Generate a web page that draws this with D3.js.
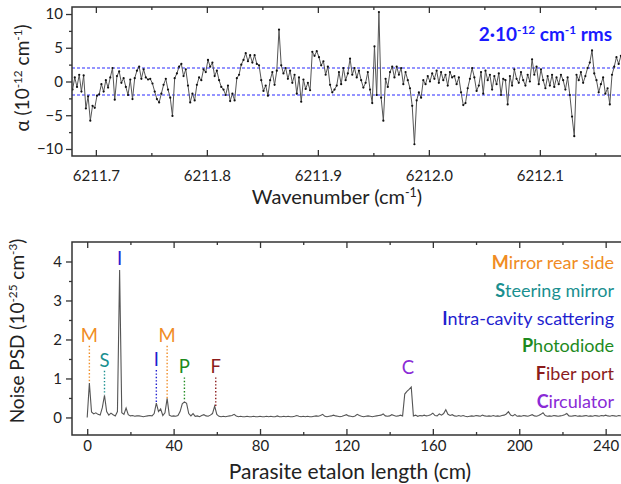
<!DOCTYPE html>
<html>
<head>
<meta charset="utf-8">
<script src="https://cdn.jsdelivr.net/npm/d3@7"></script>
<style>
  body { margin: 0; background: #fff; }
  svg { display: block; }
  text { font-family: Lato, "Open Sans", sans-serif; fill: #222; }
</style>
</head>
<body>
<svg id="chart" width="621" height="484"></svg>
<script>
// ---- top panel : absorption noise ----
const wnStart = 6211.679, wnStep = 0.002;
const alphaVals = [
  -1.2, 0.6, -0.8, 1.0, -1.5, 0.9, -4.0, -2.2, -5.8, -3.6,
  -3.9, -2.1, -1.9, -0.4, -1.5, 0.2, -0.9, 0.6, 2.0, -2.7,
  0.8, 1.5, -0.2, 0.5, -0.8, -2.0, 0.3, -2.6, 0.5, 1.6,
  2.2, 0.4, 1.8, 0.6, 0.3, 0.4, -0.3, -1.5, -2.6, -3.1,
  -1.8, -0.5, 0.4, -1.2, -2.4, -5.1, 0.5, 1.2, 2.2, 2.6,
  0.8, 1.8, -0.6, -3.1, -1.8, -2.8, -0.5, 0.6, 0.2, 1.8,
  1.4, 3.2, 2.2, 2.8, 0.8, 1.6, 0.2, -0.8, -1.2, -2.0,
  -0.6, -2.9, -1.8, -2.8, 0.5, 1.0, 2.5, 3.2, 4.2, 3.0,
  3.9, 2.8, 3.9, 2.6, 2.4, 0.2, -1.4, -0.6, -2.1, 0.2,
  1.4, -0.5, 1.6, 7.7, 2.4, 1.2, 2.0, 0.4, 1.6, -0.2,
  1.0, -1.8, 0.6, -3.0, 0.3, -1.1, -0.2, -1.3, 4.4, 3.8,
  4.5, 3.6, 2.4, 3.0, 1.0, 2.2, -0.5, -1.6, -1.2, -0.6,
  1.4, -0.4, 2.0, 0.2, 1.2, 3.4, 1.0, 2.0, 0.6, 1.6,
  0.2, -0.9, -0.2, 1.4, -1.2, -3.2, 5.2, -2.0, 10.3, -2.4,
  -5.8, 0.4, -0.8, 1.4, 2.2, 0.6, 2.2, 1.0, 2.0, -0.4,
  1.4, 0.2, -1.0, -3.6, -9.3, -2.8, -1.6, -2.4, 0.2, -0.4,
  0.8, 0.0, 1.2, 0.4, 1.6, -0.2, 1.4, 0.2, 1.0, -0.6,
  1.4, 0.6, 0.8, -0.4, 0.6, -1.6, -3.5, -3.2, -1.0, 0.4,
  2.0, 0.6, -1.4, -0.6, 1.4, -1.8, 1.6, 0.2, 1.0, -1.2,
  0.8, -0.4, 1.2, -2.0, 0.4, 0.2, -3.4, 0.8, -0.6, 1.8,
  0.4, -0.2, 1.4, 0.2, -0.6, 1.0, 0.0, 3.3, 1.0, 2.2,
  -0.4, 1.8, 0.2, -1.0, 0.8, -0.6, 1.0, -0.8, 0.6, -0.4,
  1.0, 0.2, -1.2, 0.6, -2.0, -5.2, -8.1, 1.0, 0.2, 1.4,
  -0.2, 0.8, 2.0, 2.8, 4.6, 1.2, 0.2, -1.6, -0.4, 0.6,
  -1.8, -1.0, -3.4, 1.0, 2.2, 3.6, 2.6, 3.8, 2.8
];
const rmsLevel = 2;
const wnTicks = [6211.7, 6211.8, 6211.9, 6212.0, 6212.1];
const wnMinor = [6211.75, 6211.85, 6211.95, 6212.05, 6212.15];
const alphaTicks = [-10, -5, 0, 5, 10];
const alphaMinor = [-7.5, -2.5, 2.5, 7.5];

// ---- bottom panel : noise PSD vs etalon length ----
const lenStep = 1;
const psdVals = [
  0.00, 0.88, 0.14, 0.09, 0.12, 0.08, 0.06, 0.25, 0.57, 0.15,
  0.06, 0.11, 0.07, 0.04, 0.15, 3.78, 0.12, 0.08, 0.24, 0.07,
  0.04, 0.05, 0.03, 0.04, 0.04, 0.03, 0.02, 0.03, 0.04, 0.05,
  0.04, 0.10, 0.37, 0.15, 0.22, 0.05, 0.12, 0.49, 0.06, 0.03,
  0.04, 0.03, 0.05, 0.15, 0.35, 0.40, 0.36, 0.10, 0.04, 0.10,
  0.03, 0.04, 0.02, 0.05, 0.07, 0.04, 0.03, 0.06, 0.10, 0.29,
  0.08, 0.03, 0.02, 0.03, 0.02, 0.03, 0.04, 0.05, 0.08, 0.04,
  0.02, 0.03, 0.02, 0.02, 0.03, 0.02, 0.02, 0.03, 0.02, 0.02,
  0.03, 0.02, 0.02, 0.03, 0.02, 0.03, 0.02, 0.02, 0.04, 0.02,
  0.02, 0.03, 0.02, 0.03, 0.02, 0.02, 0.03, 0.05, 0.03, 0.02,
  0.03, 0.02, 0.03, 0.02, 0.02, 0.03, 0.04, 0.03, 0.05, 0.08,
  0.03, 0.02, 0.03, 0.04, 0.06, 0.04, 0.03, 0.02, 0.03, 0.05,
  0.07, 0.04, 0.03, 0.02, 0.04, 0.08, 0.05, 0.03, 0.02, 0.03,
  0.04, 0.03, 0.02, 0.03, 0.04, 0.05, 0.06, 0.09, 0.04, 0.03,
  0.04, 0.07, 0.05, 0.03, 0.04, 0.06, 0.04, 0.60, 0.67, 0.72,
  0.78, 0.04, 0.06, 0.03, 0.05, 0.04, 0.06, 0.04, 0.05, 0.07,
  0.11, 0.05, 0.04, 0.09, 0.06, 0.10, 0.20, 0.08, 0.05, 0.07,
  0.04, 0.03, 0.05, 0.03, 0.05, 0.03, 0.02, 0.03, 0.04, 0.03,
  0.05, 0.04, 0.03, 0.06, 0.04, 0.03, 0.04, 0.03, 0.05, 0.03,
  0.04, 0.03, 0.05, 0.06, 0.09, 0.15, 0.06, 0.04, 0.08, 0.03,
  0.04, 0.03, 0.05, 0.04, 0.03, 0.05, 0.07, 0.04, 0.03, 0.05,
  0.08, 0.12, 0.05, 0.03, 0.04, 0.03, 0.05, 0.04, 0.03, 0.04,
  0.05, 0.07, 0.10, 0.04, 0.03, 0.04, 0.05, 0.03, 0.04, 0.03,
  0.04, 0.05, 0.03, 0.04, 0.03, 0.05, 0.04, 0.03, 0.05, 0.04,
  0.06, 0.04, 0.03, 0.05, 0.04, 0.03, 0.05, 0.04
];
const lenTicks = [0, 40, 80, 120, 160, 200, 240];
const lenMinor = [20, 60, 100, 140, 180, 220];
const psdTicks = [0, 1, 2, 3, 4];
const psdMinor = [0.5, 1.5, 2.5, 3.5];

// peak annotations
const peakLetters = ["M", "S", "I", "I", "M", "P", "F", "C"];
const peakPos     = [1, 8, 15, 32, 37, 45, 59.5, 148.5];
const peakLabelY  = [1.94, 1.3, 3.9, 1.32, 1.94, 1.13, 1.13, 1.12];
const peakTop     = [0.88, 0.58, null, 0.39, 0.49, 0.42, 0.29, null];

const legendNames = ["Mirror rear side", "Steering mirror", "Intra-cavity scattering",
                     "Photodiode", "Fiber port", "Circulator"];
const letterColors = { M: "#f08c24", S: "#1a8f8f", I: "#1f1fcf", P: "#1d8a1d", F: "#8c1c1c", C: "#8a2bd6" };

const svg = d3.select("#chart");
const axisCol = "#333";

function styleAxis(g) {
  g.select(".domain").remove();
  g.selectAll("line").attr("stroke", axisCol).attr("stroke-width", 1.3);
  g.selectAll("text").attr("fill", "#222").style("font-size", "15px");
}

// text with superscripts: parts like [["Wavenumber (cm"], ["-1", true], [")"]]
function addSup(t, parts) {
  let up = false;
  parts.forEach(([s, sup]) => {
    const ts = t.append("tspan").text(s);
    if (sup && !up) { ts.attr("dy", -7).style("font-size", "0.62em"); up = true; }
    else if (!sup && up) { ts.attr("dy", 7); up = false; }
  });
}

// ================= top panel =================
const box1 = { l: 72, r: 621, t: 7, b: 156 };
const x1 = d3.scaleLinear().domain([6211.6785, 6212.1731]).range([box1.l, box1.r]);
const y1 = d3.scaleLinear().domain([-11.04, 11.04]).range([box1.b, box1.t]);

svg.append("clipPath").attr("id", "clip1")
  .append("rect").attr("x", box1.l).attr("y", box1.t).attr("width", box1.r - box1.l).attr("height", box1.b - box1.t);

const pts1 = alphaVals.map((v, i) => [wnStart + i * wnStep, v]);

const g1 = svg.append("g").attr("clip-path", "url(#clip1)");
[rmsLevel, -rmsLevel].forEach(v => {
  g1.append("line")
    .attr("x1", box1.l).attr("x2", box1.r)
    .attr("y1", y1(v)).attr("y2", y1(v))
    .attr("stroke", "#2a2aff").attr("stroke-width", 1.2)
    .attr("stroke-dasharray", "3,2");
});
g1.append("path")
  .datum(pts1)
  .attr("fill", "none")
  .attr("stroke", "#555")
  .attr("stroke-width", 1)
  .attr("d", d3.line().x(d => x1(d[0])).y(d => y1(d[1])));
g1.selectAll(".dot").data(pts1).enter().append("circle")
  .attr("class", "dot")
  .attr("cx", d => x1(d[0])).attr("cy", d => y1(d[1]))
  .attr("r", 1.1).attr("fill", "#111");

svg.append("g").attr("transform", `translate(0,${box1.b})`)
  .call(d3.axisBottom(x1).tickValues(wnMinor).tickSize(-3).tickFormat(""))
  .call(styleAxis);
svg.append("g").attr("transform", `translate(0,${box1.b})`)
  .call(d3.axisBottom(x1).tickValues(wnTicks).tickSize(-6).tickPadding(14).tickFormat(d3.format(".1f")))
  .call(styleAxis);
svg.append("g").attr("transform", `translate(0,${box1.t})`)
  .call(d3.axisTop(x1).tickValues(wnMinor).tickSize(-3).tickFormat(""))
  .call(styleAxis);
svg.append("g").attr("transform", `translate(0,${box1.t})`)
  .call(d3.axisTop(x1).tickValues(wnTicks).tickSize(-6).tickFormat(""))
  .call(styleAxis);
svg.append("g").attr("transform", `translate(${box1.l},0)`)
  .call(d3.axisLeft(y1).tickValues(alphaMinor).tickSize(3).tickFormat(""))
  .call(styleAxis);
svg.append("g").attr("transform", `translate(${box1.l},0)`)
  .call(d3.axisLeft(y1).tickValues(alphaTicks).tickSize(6).tickPadding(3))
  .call(styleAxis);

svg.append("path")
  .attr("d", `M${box1.r + 2},${box1.t}H${box1.l}V${box1.b}H${box1.r + 2}`)
  .attr("fill", "none").attr("stroke", axisCol).attr("stroke-width", 1.5);

const xl1 = svg.append("text").attr("x", 337).attr("y", 204).attr("text-anchor", "middle").style("font-size", "20px");
addSup(xl1, [["Wavenumber (cm"], ["-1", true], [")"]]);

const yl1 = svg.append("text").attr("transform", "translate(29,78) rotate(-90)")
  .attr("text-anchor", "middle").style("font-size", "19px");
addSup(yl1, [["\u03b1 (10"], ["-12", true], [" cm"], ["-1", true], [")"]]);

const rmsTxt = svg.append("text").attr("x", 612).attr("y", 41).attr("text-anchor", "end")
  .style("font-size", "19px").style("font-weight", "bold").style("fill", "#1a1aff");
addSup(rmsTxt, [["2\u00b710"], ["-12", true], [" cm"], ["-1", true], [" rms"]]);

// ================= bottom panel =================
const box2 = { l: 72, r: 621, t: 242, b: 435 };
const x2 = d3.scaleLinear().domain([-7.04, 247.1]).range([box2.l, box2.r]);
const y2 = d3.scaleLinear().domain([-0.45, 4.5]).range([box2.b, box2.t]);

svg.append("clipPath").attr("id", "clip2")
  .append("rect").attr("x", box2.l).attr("y", box2.t).attr("width", box2.r - box2.l).attr("height", box2.b - box2.t);

const pts2 = psdVals.map((v, i) => [i * lenStep, v]);
svg.append("g").attr("clip-path", "url(#clip2)")
  .append("path")
  .datum(pts2)
  .attr("fill", "none")
  .attr("stroke", "#555")
  .attr("stroke-width", 1.1)
  .attr("d", d3.line().x(d => x2(d[0])).y(d => y2(d[1])));

svg.append("g").attr("transform", `translate(0,${box2.b})`)
  .call(d3.axisBottom(x2).tickValues(lenMinor).tickSize(-3).tickFormat(""))
  .call(styleAxis);
svg.append("g").attr("transform", `translate(0,${box2.b})`)
  .call(d3.axisBottom(x2).tickValues(lenTicks).tickSize(-6).tickPadding(5).tickFormat(d3.format("d")))
  .call(styleAxis);
svg.append("g").attr("transform", `translate(0,${box2.t})`)
  .call(d3.axisTop(x2).tickValues(lenMinor).tickSize(-3).tickFormat(""))
  .call(styleAxis);
svg.append("g").attr("transform", `translate(0,${box2.t})`)
  .call(d3.axisTop(x2).tickValues(lenTicks).tickSize(-6).tickFormat(""))
  .call(styleAxis);
svg.append("g").attr("transform", `translate(${box2.l},0)`)
  .call(d3.axisLeft(y2).tickValues(psdMinor).tickSize(3).tickFormat(""))
  .call(styleAxis);
svg.append("g").attr("transform", `translate(${box2.l},0)`)
  .call(d3.axisLeft(y2).tickValues(psdTicks).tickSize(6).tickPadding(4).tickFormat(d3.format("d")))
  .call(styleAxis);

svg.append("path")
  .attr("d", `M${box2.r + 2},${box2.t}H${box2.l}V${box2.b}H${box2.r + 2}`)
  .attr("fill", "none").attr("stroke", axisCol).attr("stroke-width", 1.5);

// peak letters + dotted leaders
peakLetters.forEach((L, i) => {
  const col = letterColors[L];
  svg.append("text")
    .attr("x", x2(peakPos[i])).attr("y", y2(peakLabelY[i]))
    .attr("text-anchor", "middle")
    .style("font-size", "18.5px").style("fill", col)
    .text(L);
  if (peakTop[i] !== null) {
    svg.append("line")
      .attr("x1", x2(peakPos[i])).attr("x2", x2(peakPos[i]))
      .attr("y1", y2(peakLabelY[i]) + 4).attr("y2", y2(peakTop[i]))
      .attr("stroke", col).attr("stroke-width", 1.4)
      .attr("stroke-dasharray", "1.4,2");
  }
});

// legend
legendNames.forEach((name, i) => {
  const col = letterColors[name[0]];
  const t = svg.append("text")
    .attr("x", 614).attr("y", 269 + i * 27.8)
    .attr("text-anchor", "end")
    .style("font-size", "18px").style("fill", col);
  t.append("tspan").style("font-weight", "bold").text(name[0]);
  t.append("tspan").text(name.slice(1));
});

svg.append("text").attr("x", 350).attr("y", 479).attr("text-anchor", "middle")
  .style("font-size", "21px").text("Parasite etalon length (cm)");

const yl2 = svg.append("text").attr("transform", "translate(24,331) rotate(-90)")
  .attr("text-anchor", "middle").style("font-size", "19px");
addSup(yl2, [["Noise PSD (10"], ["-25", true], [" cm"], ["-3", true], [")"]]);
</script>
</body>
</html>
